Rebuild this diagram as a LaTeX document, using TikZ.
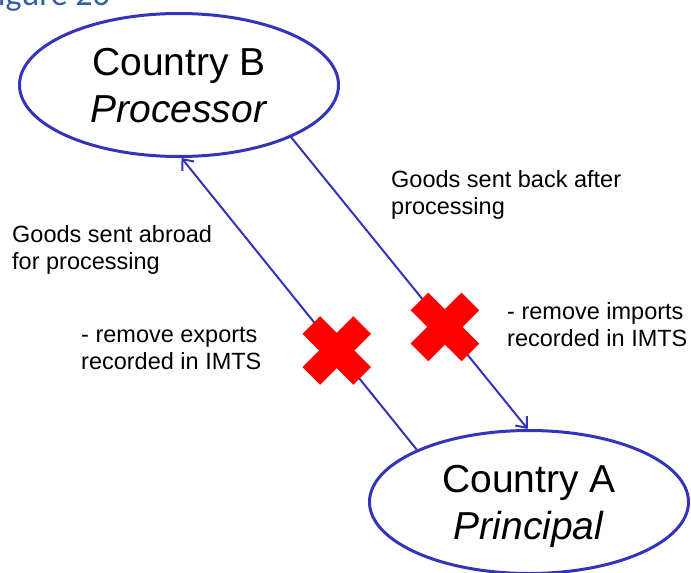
\documentclass[tikz,border=0pt]{standalone}
\usepackage{fontspec}
\setmainfont{Liberation Sans}
\newfontfamily\captionfont{Carlito}
\usetikzlibrary{shapes.geometric, arrows.meta}

\definecolor{lineblue}{RGB}{51,51,187}
\definecolor{captionblue}{RGB}{52,94,160}
\definecolor{crossred}{RGB}{255,0,0}

\begin{document}
\begin{tikzpicture}[x=1pt, y=-1pt,
    country/.style={ellipse, draw=lineblue, line width=3pt, minimum width=319pt,
        minimum height=143pt, inner sep=0pt, align=center, text depth=0pt,
        font=\fontsize{39}{47}\selectfont},
    flow/.style={draw=lineblue, line width=2pt, -{Straight Barb[length=9pt, width=15pt]}},
    note/.style={anchor=north west, inner sep=0pt, align=left,
        font=\fontsize{23.5}{27}\selectfont},
    xbar/.style={fill=crossred, minimum width=72pt, minimum height=25pt, inner sep=0pt}]

% page frame
\useasboundingbox (0, 0) rectangle (691, 573);
\clip (0, 0) rectangle (691, 573);

% caption, cut at the top
\node[anchor=base west, inner sep=0pt, text=captionblue,
    font=\captionfont\fontsize{34}{40}\selectfont] (caption) at (-18, 5) {Figure 26};

% draw the two countries
\node[country] (B) at (179, 85) {Country B\\\textit{Processor}};
\node[country] (A) at (529, 502) {Country A\\\textit{Principal}};

% draw the flows
\draw[flow] (A.155) -- coordinate[pos=0.34] (exportcut) (B.-88);
\draw[flow] (B.-25) -- coordinate[pos=0.65] (importcut) (A.91);

% draw notes
\node[note] (abroad) at (12, 225) {Goods sent abroad\\for processing};
\node[note] (back) at (391, 170) {Goods sent back after\\processing};
\node[note] (exports) at (81, 327) {- remove exports\\recorded in IMTS};
\node[note] (imports) at (507, 302) {- remove imports\\recorded in IMTS};

% draw red crosses
\foreach \cut in {exportcut, importcut}
{
    \node[xbar, rotate=45] (\cut-a) at (\cut) {};
    \node[xbar, rotate=-45] (\cut-b) at (\cut) {};
}

\end{tikzpicture}
\end{document}
